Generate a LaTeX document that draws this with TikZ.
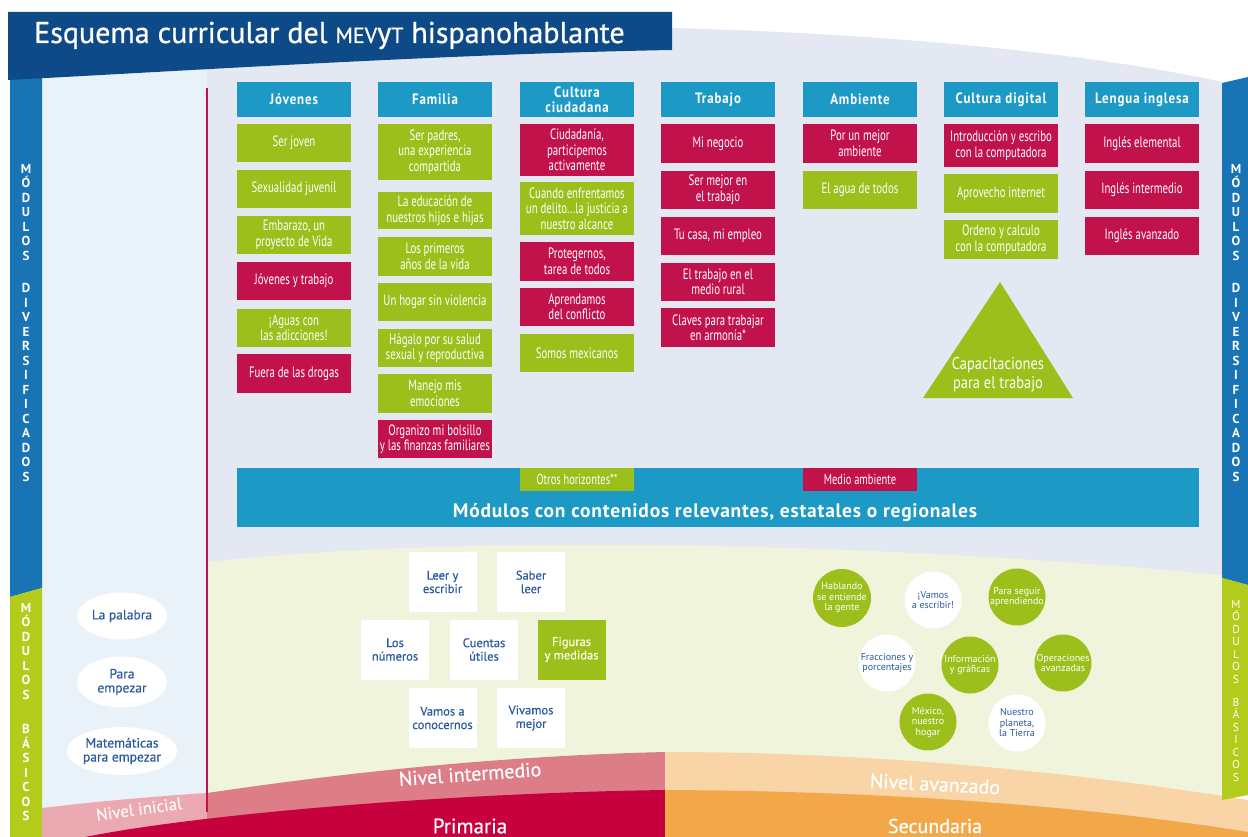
\documentclass[tikz,border=0pt]{standalone}
\usepackage{fontspec}
\setmainfont{PT Sans}
\newfontfamily\condf{PT Sans}[FakeStretch=0.72]
\newfontfamily\capf{PT Sans}[FakeStretch=0.85]
\newfontfamily\hdrf{PT Sans}[FakeStretch=0.86,LetterSpace=6]
\newfontfamily\spacedf{PT Sans}[LetterSpace=4]
\newfontfamily\titlef{PT Sans}[FakeBold=0.8]
\newfontfamily\semif{PT Sans}[FakeBold=0.5]
\usetikzlibrary{shapes.geometric}
\definecolor{navy}{HTML}{0D4A87}
\definecolor{sideblue}{HTML}{1874B5}
\definecolor{cyanh}{HTML}{1C9AC5}
\definecolor{lime}{HTML}{9CBF1C}
\definecolor{crim}{HTML}{C2124B}
\definecolor{lav}{HTML}{E4E8F2}
\definecolor{panel}{HTML}{E9F1F9}
\definecolor{pyellow}{HTML}{F1F4DD}
\definecolor{pinkmid}{HTML}{DC7D88}
\definecolor{pinklt}{HTML}{EBAAB2}
\definecolor{primred}{HTML}{C7003E}
\definecolor{peach}{HTML}{F8D4A6}
\definecolor{orangeb}{HTML}{F2A848}
\definecolor{sidelime}{HTML}{B3CB1B}
\definecolor{textblue}{HTML}{2A5B9C}
\newcommand\modbox[6]{\node[#2, minimum height={#5pt-#4pt}] (#1) at (#3,{(#4+#5)/2}) {#6};}
\tikzset{
  hdr/.style={fill=cyanh, text=white, font=\hdrf\bfseries\fontsize{15}{15}\selectfont, minimum width=114pt, minimum height=35pt, inner sep=0pt, align=center},
  gbox/.style={fill=lime, text=white, font=\condf\fontsize{15}{15.5}\selectfont, minimum width=114pt, inner sep=0pt, align=center},
  rbox/.style={gbox, fill=crim},
  sidetxt/.style={text=white, font=\bfseries\fontsize{13}{14.5}\selectfont, align=center, inner sep=0pt},
  sq/.style={fill=white, minimum width=68pt, minimum height=60pt, inner sep=0pt, text=textblue, font=\semif\fontsize{12.5}{13.5}\selectfont, align=center},
  ell/.style={ellipse, fill=white, inner sep=0pt, text=textblue, font=\semif\fontsize{13.5}{14}\selectfont, align=center},
  gcirc/.style={circle, fill=lime, minimum size=57pt, inner sep=0pt, text=white, font=\fontsize{10}{10.5}\selectfont, align=center},
  wcirc/.style={gcirc, fill=white, text=textblue},
  bandlbl/.style={text=white, font=\semif\fontsize{20}{22}\selectfont, inner sep=0pt},
}
\begin{document}
\begin{tikzpicture}[x=1pt,y=-1pt]
\useasboundingbox (0,0) rectangle (1248,837);
\fill[white] (0,0) rectangle (1248,837);
% backgrounds
\fill[lav] (42,50) -- (672,28) .. controls (900,34) and (1100,55) .. (1222,82) -- (1222,837) -- (42,837) -- cycle;
\fill[panel] (42,70) rectangle (207,837);
\fill[pyellow] (207,562) .. controls (450,535) and (850,540) .. (1222,575) -- (1222,837) -- (207,837) -- cycle;
% bottom bands
\fill[pinklt] (42,808) .. controls (100,801) and (160,796) .. (207,793) -- (207,837) -- (42,837) -- cycle;
\fill[pinkmid] (207,793) .. controls (350,772) and (500,756) .. (665,752) -- (665,837) -- (207,837) -- cycle;
\fill[peach] (665,752) .. controls (850,752) and (1050,768) .. (1248,800) -- (1248,837) -- (665,837) -- cycle;
\fill[primred] (85,837) .. controls (200,814) and (450,793) .. (665,790) -- (665,837) -- cycle;
\fill[orangeb] (665,790) .. controls (900,791) and (1100,808) .. (1248,832) -- (1248,837) -- (665,837) -- cycle;
% side bars
\fill[sideblue] (10,78) -- (42,78) -- (42,588) -- (10,597) -- cycle;
\fill[sidelime] (10,597) -- (42,588) -- (42,837) -- (10,837) -- cycle;
\fill[sideblue] (1222,83) -- (1248,77) -- (1248,585) -- (1222,578) -- cycle;
\fill[sidelime] (1222,578) -- (1248,585) -- (1248,795) -- (1222,800) -- cycle;
% red divider
\draw[crim, line width=1.2pt] (207,88) -- (207,812);
% title banner
\fill[navy] (8,12) -- (672,12) -- (672,50) .. controls (450,54) and (200,70) .. (8,80) -- cycle;
\node[anchor=base west, text=white, font=\titlef\fontsize{30}{34}\selectfont, inner sep=0pt] (title) at (34,43)
  {Esquema curricular del {\fontsize{22}{24}\selectfont MEV}y{\fontsize{22}{24}\selectfont T} hispanohablante};
% side letters
\node[sidetxt] (sdl) at (26,323) {M\\Ó\\D\\U\\L\\O\\S\\[18pt]D\\I\\V\\E\\R\\S\\I\\F\\I\\C\\A\\D\\O\\S};
\node[sidetxt] (sbl) at (26,712) {M\\Ó\\D\\U\\L\\O\\S\\[20pt]B\\Á\\S\\I\\C\\O\\S};
\node[sidetxt] (sdr) at (1236,323) {M\\Ó\\D\\U\\L\\O\\S\\[18pt]D\\I\\V\\E\\R\\S\\I\\F\\I\\C\\A\\D\\O\\S};
\node[sidetxt, font=\fontsize{11.5}{12.5}\selectfont] (sbr) at (1236,691) {M\\Ó\\D\\U\\L\\O\\S\\[10.5pt]B\\Á\\S\\I\\C\\O\\S};
% headers
\node[hdr] (hj) at (294,99.5) {Jóvenes};
\node[hdr] (hf) at (435,99.5) {Familia};
\node[hdr] (hc) at (577,99.5) {Cultura\\ciudadana};
\node[hdr] (ht) at (718,99.5) {Trabajo};
\node[hdr] (ha) at (860,99.5) {Ambiente};
\node[hdr] (hd) at (1001,99.5) {Cultura digital};
\node[hdr] (hl) at (1142,99.5) {Lengua inglesa};
% Jovenes
\modbox{j1}{gbox}{294}{124}{162}{Ser joven}
\modbox{j2}{gbox}{294}{170}{208}{Sexualidad juvenil}
\modbox{j3}{gbox}{294}{216}{254}{Embarazo, un\\proyecto de Vida}
\modbox{j4}{rbox}{294}{262}{300}{Jóvenes y trabajo}
\modbox{j5}{gbox}{294}{309}{347}{¡Aguas con\\las adicciones!}
\modbox{j6}{rbox}{294}{354}{393}{Fuera de las drogas}
% Familia
\modbox{f1}{gbox}{435}{124}{180}{Ser padres,\\una experiencia\\compartida}
\modbox{f2}{gbox}{435}{192}{229}{La educación de\\nuestros hijos e hijas}
\modbox{f3}{gbox}{435}{237}{276}{Los primeros\\años de la vida}
\modbox{f4}{gbox}{435}{283}{321}{Un hogar sin violencia}
\modbox{f5}{gbox}{435}{329}{367}{Hágalo por su salud\\sexual y reproductiva}
\modbox{f6}{gbox}{435}{374}{413}{Manejo mis\\emociones}
\modbox{f7}{rbox}{435}{420}{458}{Organizo mi bolsillo\\y las finanzas familiares}
% Cultura ciudadana
\modbox{c1}{rbox}{577}{124}{176}{Ciudadanía,\\participemos\\activamente}
\modbox{c2}{gbox}{577}{182}{235}{Cuando enfrentamos\\un delito...la justicia a\\nuestro alcance}
\modbox{c3}{rbox}{577}{242}{281}{Protegernos,\\tarea de todos}
\modbox{c4}{rbox}{577}{288}{326}{Aprendamos\\del conflicto}
\modbox{c5}{gbox}{577}{334}{372}{Somos mexicanos}
% Trabajo
\modbox{t1}{rbox}{718}{124}{163}{Mi negocio}
\modbox{t2}{rbox}{718}{171}{209}{Ser mejor en\\el trabajo}
\modbox{t3}{rbox}{718}{217}{255}{Tu casa, mi empleo}
\modbox{t4}{rbox}{718}{263}{301}{El trabajo en el\\medio rural}
\modbox{t5}{rbox}{718}{308}{347}{Claves para trabajar\\en armonía*}
% Ambiente
\modbox{a1}{rbox}{860}{124}{163}{Por un mejor\\ambiente}
\modbox{a2}{gbox}{860}{171}{209}{El agua de todos}
% Cultura digital
\modbox{d1}{rbox}{1001}{124}{167}{Introducción y escribo\\con la computadora}
\modbox{d2}{gbox}{1001}{174}{213}{Aprovecho internet}
\modbox{d3}{gbox}{1001}{220}{259}{Ordeno y calculo\\con la computadora}
% Lengua inglesa
\modbox{l1}{rbox}{1142}{124}{163}{Inglés elemental}
\modbox{l2}{rbox}{1142}{171}{209}{Inglés intermedio}
\modbox{l3}{rbox}{1142}{217}{255}{Inglés avanzado}
% triangle
\fill[lime] (1000,282) -- (1073,398) -- (923,398) -- cycle;
\node[text=white, font=\capf\fontsize{17}{19}\selectfont, align=center, inner sep=0pt] (cap) at (998,375) {Capacitaciones\\para el trabajo};
% band
\node[fill=cyanh, minimum width=962pt, minimum height=59pt, inner sep=0pt] (band) at (718,497.5) {};
\node[fill=lime, minimum width=114pt, minimum height=23pt, inner sep=0pt, text=white, font=\condf\fontsize{14.5}{14.5}\selectfont] (oh) at (577,479.5) {Otros horizontes**};
\node[fill=crim, minimum width=114pt, minimum height=23pt, inner sep=0pt, text=white, font=\condf\fontsize{14.5}{14.5}\selectfont] (ma) at (860,479.5) {Medio ambiente};
\node[text=white, font=\spacedf\bfseries\fontsize{19.5}{20}\selectfont, inner sep=0pt] (bandtxt) at (715,513) {Módulos con contenidos relevantes, estatales o regionales};
% nivel inicial
\node[ell, minimum width=90pt, minimum height=47pt] (e1) at (122,616) {La palabra};
\node[ell, minimum width=90pt, minimum height=51pt] (e2) at (122,682) {Para\\empezar};
\node[ell, minimum width=96pt, minimum height=48pt] (e3) at (122,751) {Matemáticas\\para empezar};
% primaria squares
\node[sq] (s1) at (442.5,582) {Leer y\\escribir};
\node[sq] (s2) at (531,582) {Saber\\leer};
\node[sq] (s3) at (395,649.5) {Los\\números};
\node[sq] (s4) at (484,649.5) {Cuentas\\útiles};
\node[sq, fill=lime, text=white!92!yellow] (s5) at (571.5,649.5) {Figuras\\y medidas};
\node[sq] (s6) at (442.5,718) {Vamos a\\conocernos};
\node[sq] (s7) at (531,718) {Vivamos\\mejor};
% secundaria circles
\node[gcirc] (k1) at (842,598) {Hablando\\se entiende\\la gente};
\node[wcirc] (k2) at (933,600) {¡Vamos\\a escribir!};
\node[gcirc] (k3) at (1017,597) {Para seguir\\aprendiendo};
\node[wcirc] (k4) at (887,663) {Fracciones y\\porcentajes};
\node[gcirc] (k5) at (970,665) {Información\\y gráficas};
\node[gcirc] (k6) at (1063,663) {Operaciones\\avanzadas};
\node[gcirc] (k7) at (928,722) {México,\\nuestro\\hogar};
\node[wcirc] (k8) at (1017,723) {Nuestro\\planeta,\\la Tierra};
% band labels
\node[bandlbl, rotate=8, text=white!85!pink, font=\semif\fontsize{17}{18}\selectfont] (ni) at (139,809) {Nivel inicial};
\node[bandlbl, rotate=4] (nint) at (470,774) {Nivel intermedio};
\node[bandlbl, rotate=-3] (nav) at (935,784) {Nivel avanzado};
\node[bandlbl, font=\semif\fontsize{21}{22}\selectfont] (prim) at (470,826) {Primaria};
\node[bandlbl] (sec) at (935,826) {Secundaria};
\end{tikzpicture}
\end{document}
